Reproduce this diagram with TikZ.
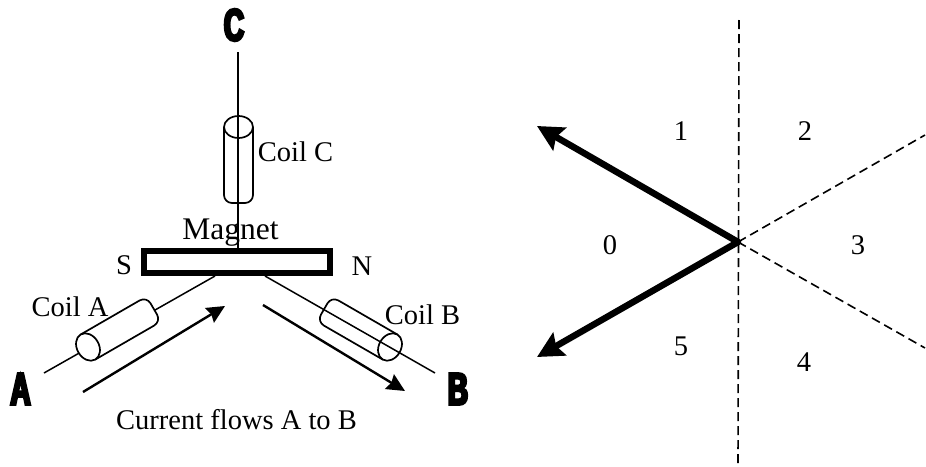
\documentclass[tikz,border=0pt]{standalone}
\usepackage{fontspec}
\usetikzlibrary{arrows.meta}
\setmainfont{Liberation Serif}
\newfontfamily\heavyfont[FakeBold=6,FakeStretch=0.62]{Liberation Sans Bold}
\tikzset{
  thinline/.style={line width=1.5pt,black},
  lbl/.style={font=\fontsize{28.5}{30}\selectfont,inner sep=0pt,text=black},
  biglbl/.style={font=\fontsize{31.5}{33}\selectfont,inner sep=0pt,text=black},
  term/.style={font=\fontsize{45}{45}\selectfont\heavyfont,inner sep=0pt,text=black},
  currentarrow/.style={line width=2.4pt,-{Stealth[length=18pt,width=17pt,inset=2pt]}},
  vectorarrow/.style={line width=6.5pt,line cap=round,-{Stealth[length=26pt,width=26pt,inset=4pt]}},
  sector/.style={line width=1.6pt,dash pattern=on 9pt off 5pt},
  coilshape/.style={line width=1.7pt,black},
  magnetbar/.style={draw=black,fill=white,line width=6pt,minimum width=186pt,minimum height=22pt,inner sep=0pt},
  pics/coil/.style={code={
    \draw[coilshape,fill=#1] (0,14.5) -- (68,14.5) arc[start angle=90,end angle=0,radius=8] -- (76,-6.5)
      arc[start angle=0,end angle=-90,radius=8] -- (0,-14.5);
    \draw[coilshape,fill=#1] (0,0) ellipse[x radius=11,y radius=14.5];
  }}
}
\begin{document}
\begin{tikzpicture}[x=1pt,y=-1pt]
\useasboundingbox (0,0) rectangle (926,466);
% left: motor
\node[magnetbar] (magnet) at (237,262) {};
\node[biglbl] (magnetlabel) at (230.5,233) {Magnet};
\node[lbl] (south) at (124,265) {S};
\node[lbl] (north) at (362,266) {N};
\node[lbl] (coilalabel) at (70,307) {Coil A};
\node[lbl] (coilblabel) at (422.5,315) {Coil B};
\node[lbl] (coilclabel) at (295.5,152) {Coil C};
\node[lbl] (currentlabel) at (236.5,420) {Current flows A to B};
\node[term] (termA) at (20.5,389) {A};
\node[term] (termB) at (458,389) {B};
\node[term] (termC) at (234,25) {C};
\coordinate (wireCtop) at (238,52);
\coordinate (wireAout) at (44,373);
\coordinate (wireAin) at (215,276);
\coordinate (wireBout) at (435,373);
\coordinate (wireBin) at (265,276);
\draw[thinline] (wireAout) -- (wireAin);
\pic at (88,347) [rotate=30] {coil=white};
\draw[thinline] (wireBin) -- (wireBout);
\pic at (390,347) [rotate=150] {coil=none};
\draw[thinline] (wireCtop) -- (238,248);
\pic at (238.5,127) [rotate=-90] {coil=none};
\coordinate (curAstart) at (83,392);
\coordinate (curAend) at (225,306);
\coordinate (curBstart) at (263,305);
\coordinate (curBend) at (405,391);
\draw[currentarrow] (curAstart) -- (curAend);
\draw[currentarrow] (curBstart) -- (curBend);
% right: sectors
\coordinate (hub) at (738,242);
\coordinate (vtop) at (739,20);
\coordinate (vbot) at (738,465);
\coordinate (rup) at (925,135);
\coordinate (rdown) at (925,348);
\coordinate (vecup) at (537,126);
\coordinate (vecdown) at (537,357);
\draw[sector] (vtop) -- (vbot);
\draw[sector] (hub) -- (rup);
\draw[sector] (hub) -- (rdown);
\draw[vectorarrow] (hub) -- (vecup);
\draw[vectorarrow] (hub) -- (vecdown);
\node[lbl] (s0) at (610,245) {0};
\node[lbl] (s1) at (681,131) {1};
\node[lbl] (s2) at (805,131) {2};
\node[lbl] (s3) at (858,245) {3};
\node[lbl] (s4) at (804,362) {4};
\node[lbl] (s5) at (681,346) {5};
\end{tikzpicture}
\end{document}
